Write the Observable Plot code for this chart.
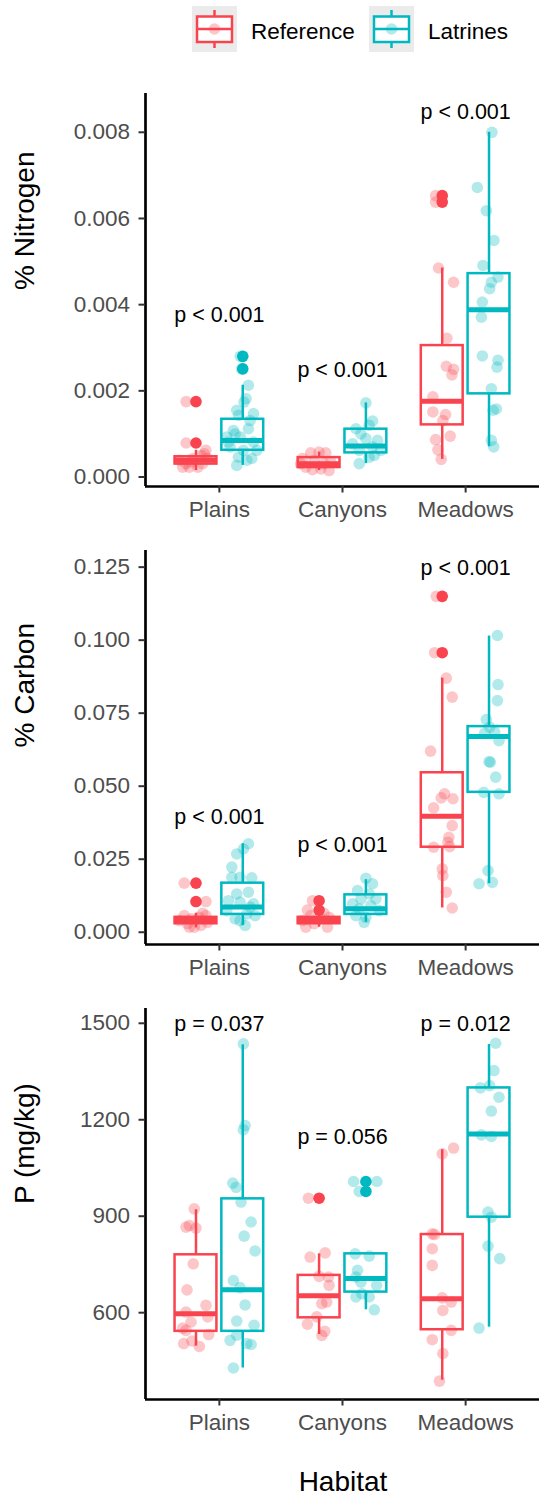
<!DOCTYPE html>
<html><head><meta charset="utf-8">
<script src="https://cdn.jsdelivr.net/npm/d3@7"></script>
<script src="https://cdn.jsdelivr.net/npm/@observablehq/plot@0.6"></script>
<style>
body{margin:0;background:#fff;font-family:"Liberation Sans",Arial,sans-serif;}
#chart{width:539px;}
svg{display:block;}
</style></head><body><div id="chart"></div>
<script>
const habitats = ["Plains","Canyons","Meadows"];
const groups = ["Reference","Latrines"];
const groupColors = ["#F9444F","#00B8C0"];

// ---------- % Nitrogen ----------
const nitrogenTicks = [0, 0.002, 0.004, 0.006, 0.008];
const nitrogenDomain = [-0.00022, 0.0089];
// habitat, group, lower whisker, Q1, median, Q3, upper whisker
const nitrogenBoxes = [
 ["Plains","Reference",0.00015,0.00030,0.00039,0.00047,0.00062],
 ["Plains","Latrines",0.00027,0.00062,0.00085,0.00134,0.00213],
 ["Canyons","Reference",0.00015,0.00022,0.00031,0.00045,0.00058],
 ["Canyons","Latrines",0.00031,0.00056,0.00072,0.00111,0.00172],
 ["Meadows","Reference",0.00041,0.00121,0.00176,0.00305,0.00485],
 ["Meadows","Latrines",0.0007,0.00193,0.00388,0.00472,0.008]
];
const nitrogenOutliers = [
 ["Plains","Reference",0.00175],["Plains","Reference",0.00079],
 ["Plains","Latrines",0.0028],["Plains","Latrines",0.00251],
 ["Meadows","Reference",0.00653],["Meadows","Reference",0.00638]
];
// habitat, group, value, jitter (category units)
const nitrogenPoints = [
 ["Plains","Reference",0.00175,-0.08],["Plains","Reference",0.00079,-0.08],["Plains","Reference",0.00062,0.08],["Plains","Reference",0.00039,-0.135],["Plains","Reference",0.00031,-0.08],["Plains","Reference",0.00023,-0.055],["Plains","Reference",0.00023,0.015],["Plains","Reference",0.00031,0.055],["Plains","Reference",0.00043,0.095],["Plains","Reference",0.00043,-0.027],["Plains","Reference",0.00023,-0.108],["Plains","Reference",0.0005,0.04],["Plains","Reference",0.00054,0.068],["Plains","Reference",0.00035,-0.04],
 ["Plains","Latrines",0.0028,-0.02],["Plains","Latrines",0.00251,-0.01],["Plains","Latrines",0.00213,0.046],["Plains","Latrines",0.00182,0.027],["Plains","Latrines",0.00174,0.01],["Plains","Latrines",0.00155,-0.049],["Plains","Latrines",0.00147,0.087],["Plains","Latrines",0.00143,-0.035],["Plains","Latrines",0.00131,0.06],["Plains","Latrines",0.00108,-0.076],["Plains","Latrines",0.001,-0.062],["Plains","Latrines",0.00112,0.046],["Plains","Latrines",0.00081,-0.117],["Plains","Latrines",0.0007,-0.103],["Plains","Latrines",0.00081,0.087],["Plains","Latrines",0.00062,0.114],["Plains","Latrines",0.00046,-0.035],["Plains","Latrines",0.00039,0.033],["Plains","Latrines",0.00027,-0.049],["Plains","Latrines",0.00043,0.073],["Plains","Latrines",0.00062,0.005],["Plains","Latrines",0.00093,-0.13],["Plains","Latrines",0.00093,-0.02],
 ["Canyons","Reference",0.00056,-0.068],["Canyons","Reference",0.00058,0],["Canyons","Reference",0.00056,0.054],["Canyons","Reference",0.00043,-0.135],["Canyons","Reference",0.00039,-0.04],["Canyons","Reference",0.00035,0.095],["Canyons","Reference",0.00023,-0.108],["Canyons","Reference",0.00019,0.014],["Canyons","Reference",0.00015,0.081],["Canyons","Reference",0.00017,-0.054],["Canyons","Reference",0.00031,-0.15],["Canyons","Reference",0.00031,0.04],
 ["Canyons","Latrines",0.00172,0],["Canyons","Latrines",0.0013,0.054],["Canyons","Latrines",0.00112,-0.081],["Canyons","Latrines",0.0012,0.027],["Canyons","Latrines",0.001,-0.04],["Canyons","Latrines",0.00085,0.095],["Canyons","Latrines",0.00077,-0.108],["Canyons","Latrines",0.0007,0.054],["Canyons","Latrines",0.00062,-0.054],["Canyons","Latrines",0.00062,0.122],["Canyons","Latrines",0.00046,0.027],["Canyons","Latrines",0.00031,-0.054],["Canyons","Latrines",0.0005,0.068],["Canyons","Latrines",0.00089,0],
 ["Meadows","Reference",0.00653,-0.054],["Meadows","Reference",0.00638,-0.054],["Meadows","Reference",0.00485,-0.03],["Meadows","Reference",0.00452,0.092],["Meadows","Reference",0.00322,0.038],["Meadows","Reference",0.00257,0.033],["Meadows","Reference",0.0025,0.092],["Meadows","Reference",0.00237,0.079],["Meadows","Reference",0.00186,-0.076],["Meadows","Reference",0.00151,-0.076],["Meadows","Reference",0.00145,0.027],["Meadows","Reference",0.00131,0.005],["Meadows","Reference",0.00095,0.065],["Meadows","Reference",0.00087,-0.054],["Meadows","Reference",0.00063,-0.035],["Meadows","Reference",0.00041,-0.008],
 ["Meadows","Latrines",0.008,0.024],["Meadows","Latrines",0.00672,-0.095],["Meadows","Latrines",0.00618,-0.022],["Meadows","Latrines",0.00549,0.04],["Meadows","Latrines",0.00491,-0.049],["Meadows","Latrines",0.00464,0.073],["Meadows","Latrines",0.00452,0.019],["Meadows","Latrines",0.00437,0.005],["Meadows","Latrines",0.00406,-0.054],["Meadows","Latrines",0.00371,-0.062],["Meadows","Latrines",0.00281,-0.054],["Meadows","Latrines",0.00271,0.073],["Meadows","Latrines",0.00255,0.065],["Meadows","Latrines",0.00205,0.019],["Meadows","Latrines",0.00158,0.06],["Meadows","Latrines",0.00155,0.033],["Meadows","Latrines",0.00085,0.019],["Meadows","Latrines",0.0007,0.038]
];
const nitrogenLabels = [["Plains","p < 0.001",0.00375],["Canyons","p < 0.001",0.00248],["Meadows","p < 0.001",0.00846]];

// ---------- % Carbon ----------
const carbonTicks = [0, 0.025, 0.05, 0.075, 0.1, 0.125];
const carbonDomain = [-0.0042, 0.1307];
const carbonBoxes = [
 ["Plains","Reference",0.0015,0.0029,0.004,0.0051,0.0065],
 ["Plains","Latrines",0.0023,0.0061,0.0086,0.0168,0.0303],
 ["Canyons","Reference",0.0017,0.0029,0.004,0.0051,0.0065],
 ["Canyons","Latrines",0.0034,0.0061,0.008,0.0128,0.018],
 ["Meadows","Reference",0.0083,0.0291,0.0397,0.0546,0.087],
 ["Meadows","Latrines",0.0166,0.0479,0.067,0.0704,0.1014]
];
const carbonOutliers = [
 ["Plains","Reference",0.0168],["Plains","Reference",0.0105],
 ["Canyons","Reference",0.0108],["Canyons","Reference",0.0076],
 ["Meadows","Reference",0.115],["Meadows","Reference",0.0957]
];
const carbonPoints = [
 ["Plains","Reference",0.0168,-0.095],["Plains","Reference",0.0105,0.081],["Plains","Reference",0.004,-0.135],["Plains","Reference",0.0029,-0.068],["Plains","Reference",0.0017,-0.014],["Plains","Reference",0.0023,0.04],["Plains","Reference",0.0057,0.081],["Plains","Reference",0.0057,-0.095],["Plains","Reference",0.0051,0.027],["Plains","Reference",0.0046,-0.04],["Plains","Reference",0.0034,0.095],["Plains","Reference",0.0017,-0.054],["Plains","Reference",0.0065,0.054],
 ["Plains","Latrines",0.0303,0.046],["Plains","Latrines",0.0285,0.005],["Plains","Latrines",0.0268,-0.049],["Plains","Latrines",0.0223,-0.089],["Plains","Latrines",0.0188,-0.089],["Plains","Latrines",0.0188,-0.022],["Plains","Latrines",0.0186,0.073],["Plains","Latrines",0.0131,-0.049],["Plains","Latrines",0.0137,0.046],["Plains","Latrines",0.0108,-0.117],["Plains","Latrines",0.0103,-0.022],["Plains","Latrines",0.0097,0.087],["Plains","Latrines",0.0074,-0.13],["Plains","Latrines",0.0063,0.033],["Plains","Latrines",0.0057,0.1],["Plains","Latrines",0.0046,-0.062],["Plains","Latrines",0.0023,0.019],["Plains","Latrines",0.004,-0.022],["Plains","Latrines",0.0086,0.06],
 ["Canyons","Reference",0.0108,-0.054],["Canyons","Reference",0.0076,-0.095],["Canyons","Reference",0.0065,0.04],["Canyons","Reference",0.004,-0.135],["Canyons","Reference",0.0029,-0.04],["Canyons","Reference",0.0017,0.068],["Canyons","Reference",0.0017,-0.108],["Canyons","Reference",0.0046,0.014],["Canyons","Reference",0.0051,0.081],["Canyons","Reference",0.0057,-0.068],
 ["Canyons","Latrines",0.0185,0],["Canyons","Latrines",0.0166,0.054],["Canyons","Latrines",0.0143,-0.068],["Canyons","Latrines",0.0131,0.027],["Canyons","Latrines",0.0114,-0.04],["Canyons","Latrines",0.0114,0.081],["Canyons","Latrines",0.0097,-0.108],["Canyons","Latrines",0.0091,0.04],["Canyons","Latrines",0.008,-0.054],["Canyons","Latrines",0.0074,0.108],["Canyons","Latrines",0.0051,0],["Canyons","Latrines",0.0057,-0.081],["Canyons","Latrines",0.0034,-0.014],
 ["Meadows","Reference",0.115,-0.049],["Meadows","Reference",0.0957,-0.062],["Meadows","Reference",0.087,0.033],["Meadows","Reference",0.0805,0.081],["Meadows","Reference",0.062,-0.095],["Meadows","Reference",0.0474,0.019],["Meadows","Reference",0.046,-0.008],["Meadows","Reference",0.0457,0.087],["Meadows","Reference",0.0426,-0.07],["Meadows","Reference",0.0365,0.081],["Meadows","Reference",0.0325,0.054],["Meadows","Reference",0.0308,0.046],["Meadows","Reference",0.0291,-0.07],["Meadows","Reference",0.0293,0.06],["Meadows","Reference",0.0217,0],["Meadows","Reference",0.0194,0.005],["Meadows","Reference",0.0137,0.033],["Meadows","Reference",0.0083,0.081],
 ["Meadows","Latrines",0.1016,0.068],["Meadows","Latrines",0.0848,0.073],["Meadows","Latrines",0.0793,0.068],["Meadows","Latrines",0.0728,-0.022],["Meadows","Latrines",0.0702,0.005],["Meadows","Latrines",0.0682,-0.035],["Meadows","Latrines",0.0656,0.081],["Meadows","Latrines",0.0584,0],["Meadows","Latrines",0.0582,0.011],["Meadows","Latrines",0.0531,0.054],["Meadows","Latrines",0.0479,-0.043],["Meadows","Latrines",0.0474,0.081],["Meadows","Latrines",0.0211,-0.008],["Meadows","Latrines",0.0166,-0.081],["Meadows","Latrines",0.0171,0.027],["Meadows","Latrines",0.0685,0.046]
];
const carbonLabels = [["Plains","p < 0.001",0.0394],["Canyons","p < 0.001",0.0297],["Meadows","p < 0.001",0.1245]];

// ---------- P (mg/kg) ----------
const phosTicks = [600, 900, 1200, 1500];
const phosDomain = [330, 1546];
const phosBoxes = [
 ["Plains","Reference",496,542,597,780,920],
 ["Plains","Latrines",428,542,671,954,1433],
 ["Canyons","Reference",532,584,653,716,783],
 ["Canyons","Latrines",609,664,706,783,783],
 ["Meadows","Reference",390,547,643,843,1107],
 ["Meadows","Latrines",555,897,1156,1299,1434]
];
const phosOutliers = [
 ["Canyons","Reference",956],
 ["Canyons","Latrines",1008],["Canyons","Latrines",977]
];
const phosPoints = [
 ["Plains","Reference",923,-0.014],["Plains","Reference",866,-0.081],["Plains","Reference",871,-0.054],["Plains","Reference",863,0],["Plains","Reference",752,-0.022],["Plains","Reference",671,-0.073],["Plains","Reference",623,0.081],["Plains","Reference",602,-0.081],["Plains","Reference",587,0.095],["Plains","Reference",571,-0.04],["Plains","Reference",552,-0.108],["Plains","Reference",545,-0.081],["Plains","Reference",532,0.103],["Plains","Reference",504,-0.1],["Plains","Reference",512,-0.033],["Plains","Reference",495,0.027],
 ["Plains","Latrines",1436,0.005],["Plains","Latrines",1182,0.019],["Plains","Latrines",1169,0.005],["Plains","Latrines",1003,-0.081],["Plains","Latrines",990,-0.054],["Plains","Latrines",944,-0.014],["Plains","Latrines",882,0.068],["Plains","Latrines",838,0.011],["Plains","Latrines",792,0.1],["Plains","Latrines",700,-0.076],["Plains","Latrines",678,-0.022],["Plains","Latrines",624,0.019],["Plains","Latrines",574,-0.049],["Plains","Latrines",561,0.092],["Plains","Latrines",514,-0.103],["Plains","Latrines",530,-0.049],["Plains","Latrines",504,0.033],["Plains","Latrines",501,0.068],["Plains","Latrines",428,-0.076],
 ["Canyons","Reference",956,-0.087],["Canyons","Reference",786,0.049],["Canyons","Reference",773,-0.073],["Canyons","Reference",713,0],["Canyons","Reference",711,0.076],["Canyons","Reference",685,0.081],["Canyons","Reference",628,0.022],["Canyons","Reference",633,0.062],["Canyons","Reference",587,-0.019],["Canyons","Reference",564,-0.095],["Canyons","Reference",542,0.046],["Canyons","Reference",529,0.022],
 ["Canyons","Latrines",1008,-0.1],["Canyons","Latrines",1008,0.089],["Canyons","Latrines",977,-0.054],["Canyons","Latrines",783,-0.087],["Canyons","Latrines",776,0.027],["Canyons","Latrines",732,-0.068],["Canyons","Latrines",711,-0.081],["Canyons","Latrines",695,-0.04],["Canyons","Latrines",685,0.087],["Canyons","Latrines",649,0.027],["Canyons","Latrines",649,-0.081],["Canyons","Latrines",609,0.068],["Canyons","Latrines",659,-0.033],
 ["Meadows","Reference",1112,0.092],["Meadows","Reference",1094,0],["Meadows","Reference",845,-0.081],["Meadows","Reference",843,-0.062],["Meadows","Reference",799,-0.081],["Meadows","Reference",747,-0.081],["Meadows","Reference",646,0],["Meadows","Reference",633,0.073],["Meadows","Reference",607,0.005],["Meadows","Reference",545,0.073],["Meadows","Reference",516,-0.081],["Meadows","Reference",473,0.005],["Meadows","Reference",387,-0.022],
 ["Meadows","Latrines",1438,0.054],["Meadows","Latrines",1353,0.04],["Meadows","Latrines",1299,-0.07],["Meadows","Latrines",1306,0.005],["Meadows","Latrines",1270,0.081],["Meadows","Latrines",1227,0.019],["Meadows","Latrines",1153,-0.062],["Meadows","Latrines",1148,0.019],["Meadows","Latrines",913,-0.008],["Meadows","Latrines",897,0.019],["Meadows","Latrines",807,-0.008],["Meadows","Latrines",768,0.087],["Meadows","Latrines",552,-0.081]
];
const phosLabels = [["Plains","p = 0.037",1496],["Canyons","p = 0.056",1146],["Meadows","p = 0.012",1496]];

// ---------- drawing ----------
const FONT = '"Liberation Sans", Arial, sans-serif';
const DODGE = 0.19, HALF = 0.17;
const xOf = (h, g) => habitats.indexOf(h) + 1 + (g === groups[0] ? -DODGE : DODGE);

function panel(cfg) {
  const boxes = cfg.boxes.map(([h,g,lo,q1,med,q3,hi]) => ({g, x: xOf(h,g), lo, q1, med, q3, hi}));
  const pts = cfg.points.map(([h,g,v,j]) => ({g, x: xOf(h,g) + j, v}));
  const outs = cfg.outliers.map(([h,g,v]) => ({g, x: xOf(h,g), v}));
  const labs = cfg.labels.map(([h,t,v]) => ({x: habitats.indexOf(h) + 1, t, v}));
  return Plot.plot({
    width: 539, height: cfg.height,
    marginLeft: 145, marginRight: 0, marginTop: cfg.marginTop, marginBottom: cfg.marginBottom,
    style: {fontFamily: FONT, background: "white", overflow: "visible"},
    x: {domain: [0.4, 3.6]},
    y: {domain: cfg.domain},
    color: {domain: groups, range: groupColors},
    marks: [
      Plot.ruleX(boxes, {x: "x", y1: "lo", y2: "q1", stroke: "g", strokeWidth: 2.5}),
      Plot.ruleX(boxes, {x: "x", y1: "q3", y2: "hi", stroke: "g", strokeWidth: 2.5}),
      Plot.rect(boxes, {x1: d => d.x - HALF, x2: d => d.x + HALF, y1: "q1", y2: "q3", fill: "white", stroke: "g", strokeWidth: 2.5}),
      Plot.ruleY(boxes, {x1: d => d.x - HALF, x2: d => d.x + HALF, y: "med", stroke: "g", strokeWidth: 5}),
      Plot.dot(outs, {x: "x", y: "v", fill: "g", r: 5.8}),
      Plot.dot(pts, {x: "x", y: "v", fill: "g", fillOpacity: 0.3, r: 5.8}),
      Plot.text(labs, {x: "x", y: "v", text: "t", fontSize: 21.5, fill: "black"}),
      Plot.ruleX([cfg.xDomainStart], {stroke: "black", strokeWidth: 2.7}),
      Plot.ruleY([cfg.domain[0]], {stroke: "black", strokeWidth: 2.7}),
      Plot.axisX({ticks: [1,2,3], tickFormat: i => habitats[i-1], tickSize: 6.5, tickPadding: 8, fontSize: 22.5, color: "#4d4d4d", stroke: "#333333", strokeWidth: 2, label: null}),
      Plot.axisY({ticks: cfg.ticks, tickFormat: cfg.format, tickSize: 6.5, tickPadding: 9, fontSize: 22.5, color: "#4d4d4d", stroke: "#333333", strokeWidth: 2, label: null}),
      Plot.text([cfg.title], {frameAnchor: "left", text: d => d, rotate: -90, dx: -120.7, fontSize: 28, fill: "black"})
    ]
  });
}

const root = document.getElementById("chart");

// legend
const leg = d3.select(root).append("svg").attr("width", 539).attr("height", 60).style("font-family", FONT);
const legX = [192, 369];
groups.forEach((g, i) => {
  const x0 = legX[i], c = groupColors[i];
  const k = leg.append("g").attr("transform", `translate(${x0},6)`);
  k.append("rect").attr("width", 45).attr("height", 46).attr("fill", "#ebebeb");
  k.append("line").attr("x1", 22.5).attr("x2", 22.5).attr("y1", 4).attr("y2", 42).attr("stroke", c).attr("stroke-width", 2.5);
  k.append("rect").attr("x", 5).attr("y", 10.5).attr("width", 35).attr("height", 25.5).attr("fill", "white").attr("stroke", c).attr("stroke-width", 2.5);
  k.append("line").attr("x1", 5).attr("x2", 40).attr("y1", 23).attr("y2", 23).attr("stroke", c).attr("stroke-width", 2.5);
  k.append("circle").attr("cx", 22.5).attr("cy", 23).attr("r", 5.8).attr("fill", c).attr("fill-opacity", 0.3);
  leg.append("text").attr("x", x0 + 59).attr("y", 38.5).attr("font-size", 22.5).attr("fill", "black").text(g);
});

const fmt3 = d3.format(".3f");
root.append(panel({boxes: nitrogenBoxes, points: nitrogenPoints, outliers: nitrogenOutliers, labels: nitrogenLabels,
  domain: nitrogenDomain, xDomainStart: 0.4, ticks: nitrogenTicks, format: fmt3, title: "% Nitrogen",
  height: 480, marginTop: 33, marginBottom: 54}));
root.append(panel({boxes: carbonBoxes, points: carbonPoints, outliers: carbonOutliers, labels: carbonLabels,
  domain: carbonDomain, xDomainStart: 0.4, ticks: carbonTicks, format: fmt3, title: "% Carbon",
  height: 460, marginTop: 10, marginBottom: 56}));
root.append(panel({boxes: phosBoxes, points: phosPoints, outliers: phosOutliers, labels: phosLabels,
  domain: phosDomain, xDomainStart: 0.4, ticks: phosTicks, format: d3.format("d"), title: "P (mg/kg)",
  height: 450, marginTop: 8, marginBottom: 51}));

const foot = d3.select(root).append("svg").attr("width", 539).attr("height", 49).style("font-family", FONT);
foot.append("text").attr("x", 343).attr("y", 41).attr("text-anchor", "middle").attr("font-size", 28).attr("fill", "black").text("Habitat");
</script></body></html>
